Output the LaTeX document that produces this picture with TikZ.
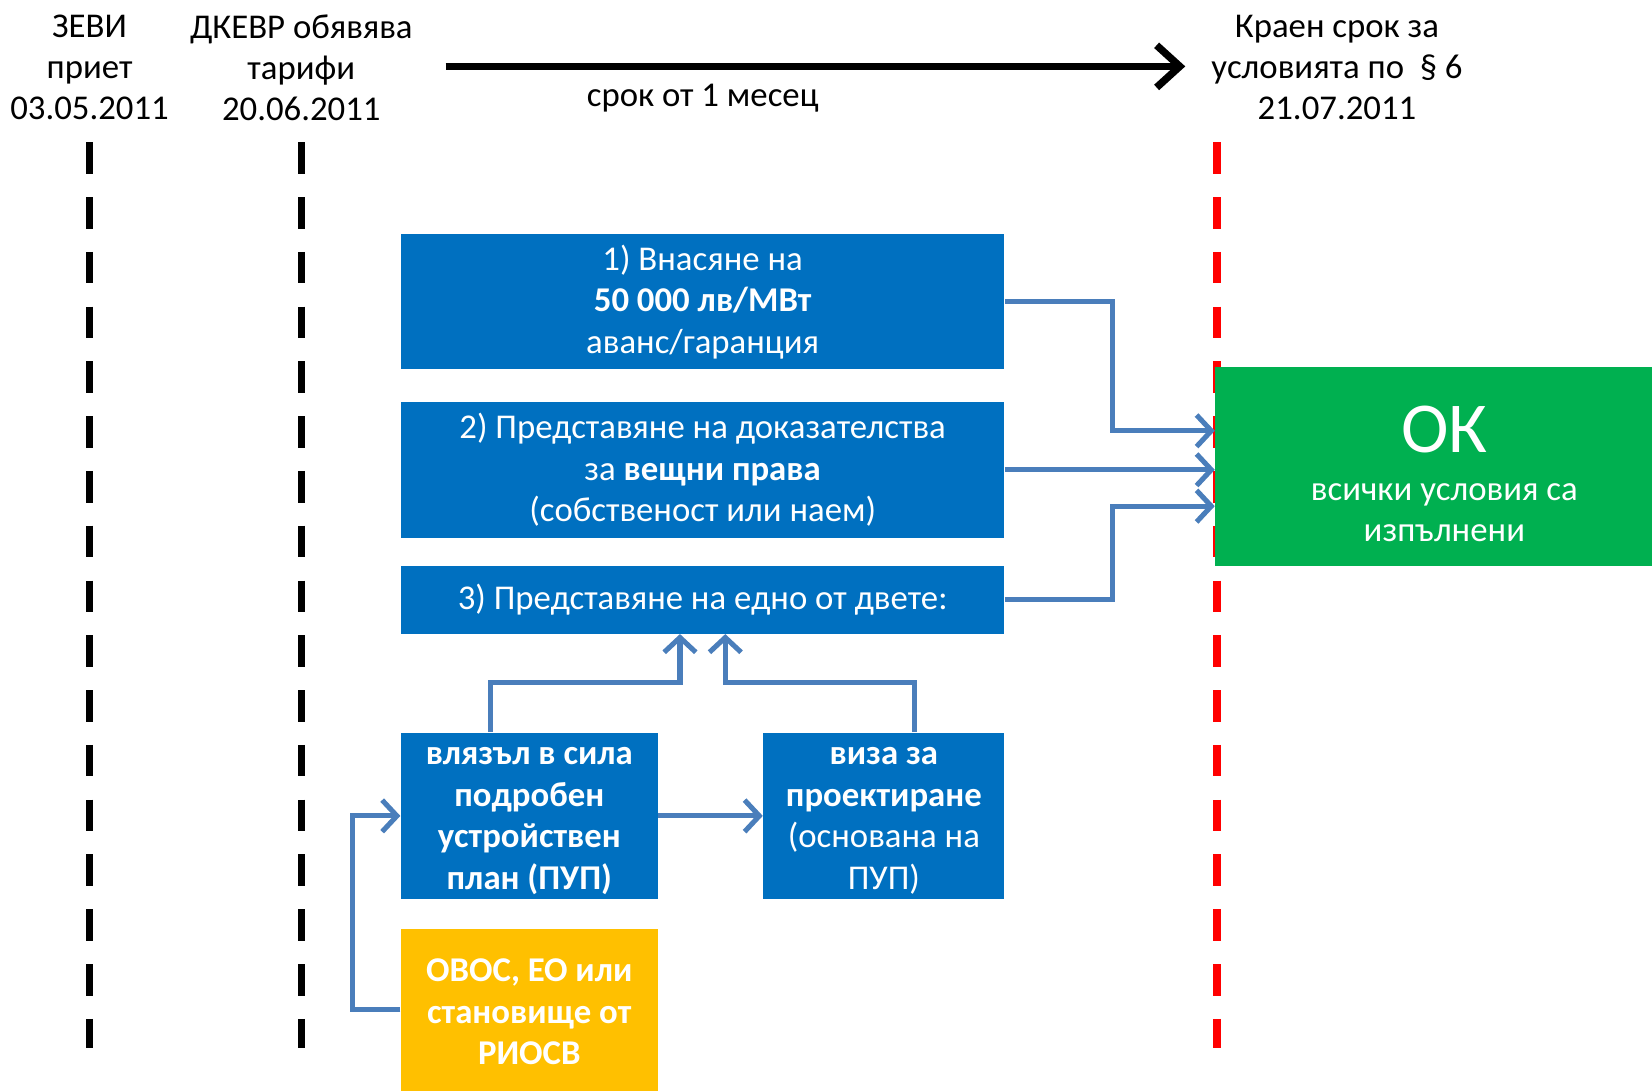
\documentclass[tikz,border=0pt]{standalone}
\usepackage{fontspec}
\setmainfont{Carlito}
\usetikzlibrary{arrows.meta}
\definecolor{boxblue}{HTML}{0070C0}
\definecolor{okgreen}{HTML}{00B050}
\definecolor{ovosyellow}{HTML}{FFC000}
\definecolor{linkblue}{HTML}{4A7EBB}
\begin{document}
\begin{tikzpicture}[x=0.5pt,y=-0.5pt,
	txt/.style={align=center,font=\fontsize{16.5}{19.5}\selectfont,inner sep=0pt},
	bluebox/.style={fill=boxblue,text=white,align=center,anchor=north west,inner sep=0pt,
		font=\fontsize{16.5}{19.7}\selectfont},
	boldbox/.style={bluebox,font=\fontsize{16.5}{19.7}\selectfont\bfseries},
	conn/.style={draw=linkblue,line width=2.4pt,-{Straight Barb[length=7pt,width=15pt]}},
	dashline/.style={line width=3.5pt,dash pattern=on 15pt off 11pt}]
	\useasboundingbox (0,0) rectangle (1568,1035);
	\foreach \x/\c in {85/black,286/black,1155/red}
		\draw[dashline,\c] (\x,135) -- (\x,995);

	\node[txt] (zevi) at (85,64) {ЗЕВИ\\приет\\03.05.2011};
	\node[txt] (dkevr) at (286,64) {ДКЕВР обявява\\тарифи\\20.06.2011};
	\node[txt] (kraen) at (1269,64) {Краен срок за\\условията по \ § 6\\21.07.2011};
	\coordinate (ts) at (423,63);
	\coordinate (te) at (1125,63);
	\draw[line width=3.5pt,-{Straight Barb[length=11pt,width=20pt]}] (ts) -- (te);
	\node[txt] (srok) at (667,93) {срок от 1 месец};

	\node[bluebox,minimum width=286.5pt,minimum height=64pt] (vn) at (380,222)
		{1) Внасяне на\\\textbf{50 000 лв/МВт}\\аванс/гаранция};
	\node[bluebox,minimum width=286.5pt,minimum height=64.5pt] (pr) at (380,381)
		{2) Представяне на доказателства\\за \textbf{вещни права}\\(собственост или наем)};
	\node[bluebox,minimum width=286.5pt,minimum height=32pt] (ed) at (380,537)
		{3) Представяне на едно от двете:};
	\node[boldbox,minimum width=122pt,minimum height=79pt] (pup) at (380,695)
		{\rule{0pt}{12.8pt}влязъл в сила\\подробен\\устройствен\\план (ПУП)};
	\node[bluebox,minimum width=114.5pt,minimum height=79pt] (viza) at (724,695)
		{\rule{0pt}{12.8pt}\textbf{виза за}\\\textbf{проектиране}\\(основана на\\ПУП)};
	\node[boldbox,fill=ovosyellow,minimum width=122pt,minimum height=77pt] (ovos) at (380,881)
		{\rule{0pt}{13pt}ОВОС, ЕО или\\становище от\\РИОСВ};
	% green box runs past the right edge
	\node[bluebox,fill=okgreen,minimum width=217.5pt,minimum height=94.5pt] (ok) at (1153,348)
		{\rule{0pt}{29pt}{\fontsize{34}{40}\selectfont ОК}\\[3pt]всички условия са\\изпълнени};

	\draw[conn] (vn.east) -- ++(102,0) |- ([yshift=17pt]ok.west);
	\draw[conn] (pr.east) -- (pr.east -| ok.west);
	\draw[conn] (ed.east) -- ++(102,0) |- ([yshift=-18.75pt]ok.west);
	\draw[conn] ([xshift=-18.5pt]pup.north) -- ++(0,-47) -| ([xshift=-10.75pt]ed.south);
	\draw[conn] ([xshift=14.75pt]viza.north) -- ++(0,-47) -| ([xshift=10.75pt]ed.south);
	\draw[conn] (pup.east) -- (viza.west);
	\draw[conn] (ovos.west) -- ++(-45,0) |- (pup.west);
\end{tikzpicture}
\end{document}
